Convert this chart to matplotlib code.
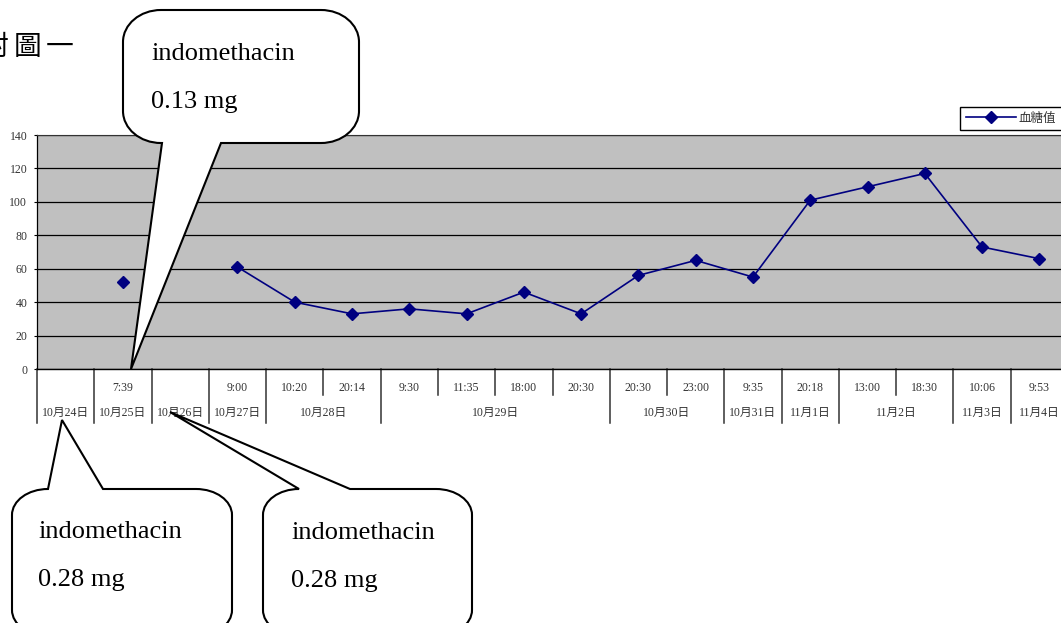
import numpy as np
import matplotlib
matplotlib.use("Agg")
import matplotlib.pyplot as plt
import matplotlib.transforms as mtransforms
from matplotlib.path import Path
from matplotlib.patches import PathPatch
from matplotlib.lines import Line2D

plt.rcParams['font.family'] = ['Liberation Serif', 'Noto Sans CJK TC']

# ---- data ----
time_labels = ['', '7:39', '', '9:00', '10:20', '20:14', '9:30', '11:35', '18:00',
               '20:30', '20:30', '23:00', '9:35', '20:18', '13:00', '18:30',
               '10:06', '9:53']
date_labels = ['10月24日', '10月25日', '10月26日', '10月27日', '10月28日', '10月29日',
               '10月30日', '10月31日', '11月1日', '11月2日', '11月3日', '11月4日']
date_counts = [1, 1, 1, 1, 2, 4, 2, 1, 1, 2, 1, 1]
glucose = [np.nan, 52, np.nan, 61, 40, 33, 36, 33, 46, 33,
           56, 65, 55, 101, 109, 117, 73, 66]
y_ticks = [0, 20, 40, 60, 80, 100, 120, 140]
series_name = '血糖值'
doses = ['indomethacin\n0.13 mg', 'indomethacin\n0.28 mg', 'indomethacin\n0.28 mg']

W, H = 1061, 623
fig = plt.figure(figsize=(W / 100, H / 100), dpi=100)
fig.patch.set_facecolor('white')

# pixel (top-down) -> figure
px = mtransforms.Affine2D().scale(1 / W, -1 / H).translate(0, 1) + fig.transFigure

ax_l, ax_t, ax_b = 37, 135, 369
ax_w = 1031
ax = fig.add_axes([ax_l / W, 1 - ax_b / H, ax_w / W, (ax_b - ax_t) / H])
ax.set_facecolor('#c0c0c0')

n = len(time_labels)
x = np.arange(n) + 0.5
line, = ax.plot(x, glucose, color='#000080', lw=1.2, marker='D', markersize=6.5,
                markerfacecolor='#000080', markeredgecolor='#000080',
                label=series_name, zorder=3)

ax.set_xlim(0, n)
ax.set_ylim(0, 140)
ax.set_yticks(y_ticks)
ax.set_xticks([])
ax.yaxis.grid(True, color='black', lw=0.9)
ax.set_axisbelow(True)
ax.tick_params(axis='y', length=2.5, width=0.8, pad=4.5, labelsize=8.5,
               labelcolor='#333333', color='black')
ax.spines['right'].set_visible(False)
ax.spines['top'].set_color('#333333')
ax.spines['top'].set_linewidth(0.8)
ax.spines['left'].set_color('black')
ax.spines['left'].set_linewidth(0.9)
ax.spines['bottom'].set_color('black')
ax.spines['bottom'].set_linewidth(1.0)

# two-level category axis
def ay(py):
    return (ax_b - py) / (ax_b - ax_t)

blend = mtransforms.blended_transform_factory(ax.transData, ax.transAxes)
bounds = np.cumsum([0] + date_counts)
for b in range(n + 1):
    y_end = ay(423) if b in bounds else ay(395)
    ax.add_line(Line2D([b, b], [0, y_end], transform=blend, color='#333333',
                       lw=1.1, clip_on=False))
for i, lab in enumerate(time_labels):
    ax.text(x[i], ay(388), lab, transform=blend, ha='center', va='center',
            fontsize=8.5, color='#333333')
for lab, s, e in zip(date_labels, bounds[:-1], bounds[1:]):
    ax.text((s + e) / 2, ay(413), lab, transform=blend, ha='center', va='center',
            fontsize=8.5, color='#333333')

# legend
leg = ax.legend(handles=[line], loc='upper left',
                bbox_to_anchor=(960 / W, 1 - 107 / H), bbox_transform=fig.transFigure,
                fontsize=9, handlelength=4.0, handletextpad=0.25, borderpad=0.45,
                borderaxespad=0, numpoints=1, fancybox=False, framealpha=1,
                edgecolor='black')
leg.get_frame().set_linewidth(1.0)
for t in leg.get_texts():
    t.set_color('#333333')

# page heading
for k, ch in enumerate('附圖一'):
    fig.text((-5 + 32.5 * k) / W, 1 - 47 / H, ch, ha='center', va='center',
             fontsize=20, family='Noto Sans CJK TC', color='black')

# speech bubbles
KAPPA = 0.5523

def bubble(x0, y0, x1, y1, rx, ry, side, b0, b1, tip):
    verts, codes = [], []

    def mv(p):
        verts.append(p); codes.append(Path.MOVETO)

    def ln(p):
        verts.append(p); codes.append(Path.LINETO)

    def corner(p0, pc, p1):
        p0, pc, p1 = map(np.asarray, (p0, pc, p1))
        verts.extend([tuple(p0 + KAPPA * (pc - p0)), tuple(p1 + KAPPA * (pc - p1)), tuple(p1)])
        codes.extend([Path.CURVE4] * 3)

    mv((x0 + rx, y0))
    if side == 'top':
        ln((b0, y0)); ln(tip); ln((b1, y0))
    ln((x1 - rx, y0))
    corner((x1 - rx, y0), (x1, y0), (x1, y0 + ry))
    ln((x1, y1 - ry))
    corner((x1, y1 - ry), (x1, y1), (x1 - rx, y1))
    if side == 'bottom':
        ln((b1, y1)); ln(tip); ln((b0, y1))
    ln((x0 + rx, y1))
    corner((x0 + rx, y1), (x0, y1), (x0, y1 - ry))
    ln((x0, y0 + ry))
    corner((x0, y0 + ry), (x0, y0), (x0 + rx, y0))
    verts.append((x0 + rx, y0)); codes.append(Path.CLOSEPOLY)
    return PathPatch(Path(verts, codes), facecolor='white', edgecolor='black',
                     lw=1.5, transform=px, zorder=5, joinstyle='miter')

fig.add_artist(bubble(123, 10, 359, 143, 38, 32, 'bottom', 162, 221, (131, 369)))
fig.add_artist(bubble(12, 489, 232, 636, 36, 26, 'top', 48, 103, (62, 420)))
fig.add_artist(bubble(263, 489, 472, 636, 36, 26, 'top', 299, 350, (170, 412)))

def bubble_text(x0, y_first, txt):
    first, second = txt.split('\n')
    fig.text(x0 / W, 1 - y_first / H, first, transform=fig.transFigure,
             ha='left', va='baseline', fontsize=19, color='black', zorder=6)
    fig.text(x0 / W, 1 - (y_first + 48) / H, second, transform=fig.transFigure,
             ha='left', va='baseline', fontsize=19, color='black', zorder=6)

bubble_text(151, 60, doses[0])
bubble_text(38, 538, doses[1])
bubble_text(291, 539, doses[2])

fig.savefig('out.png', dpi=100)
